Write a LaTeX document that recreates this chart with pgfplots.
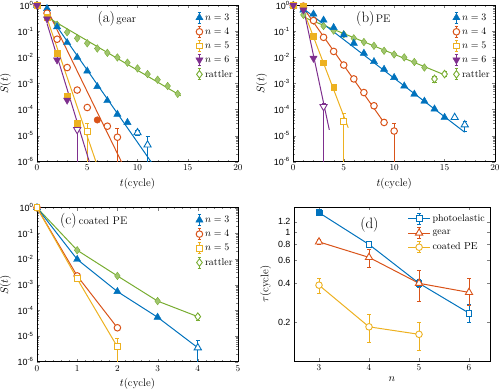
\documentclass[border=0pt]{standalone}
\usepackage{fontspec}
\usepackage{pgfplots}
\pgfplotsset{compat=1.18}
\newfontfamily\tf{Liberation Sans}
\definecolor{cb}{rgb}{0,0.447,0.741}
\definecolor{cr}{rgb}{0.85,0.325,0.098}
\definecolor{cy}{rgb}{0.929,0.694,0.125}
\definecolor{cp}{rgb}{0.494,0.184,0.556}
\definecolor{cg}{rgb}{0.466,0.674,0.188}
\pgfplotsset{
  myaxis/.style={scale only axis, anchor=south west, clip=true,
    tick label style={font=\tf\fontsize{9}{10}\selectfont},
    label style={font=\fontsize{11}{12}\selectfont},
    axis line style={line width=0.6pt},
    major tick length=3.2pt, minor tick length=1.8pt,
    legend cell align=left,
    legend style={draw=none, fill=none, font=\fontsize{10}{11}\selectfont, row sep=2.2pt, inner sep=0pt},
  },
  errleg/.style={legend image code/.code={
    \draw[##1,mark=none,solid,line width=0.7pt] (0pt,-5.5pt)--(0pt,5.5pt) (-1.8pt,-5.5pt)--(1.8pt,-5.5pt) (-1.8pt,5.5pt)--(1.8pt,5.5pt);
    \draw[##1] plot coordinates {(0pt,0pt)};}},
  errlegline/.style={legend image code/.code={
    \draw[##1,mark=none,line width=0.9pt] (-11pt,0pt)--(11pt,0pt);
    \draw[##1,mark=none,line width=0.7pt] (0pt,-5.5pt)--(0pt,5.5pt) (-1.8pt,-5.5pt)--(1.8pt,-5.5pt) (-1.8pt,5.5pt)--(1.8pt,5.5pt);
    \draw[##1] plot coordinates {(0pt,0pt)};}},
  ebl/.style={no marks, line width=0.7pt, forget plot, unbounded coords=jump},
  fitl/.style={no marks, line width=1pt, forget plot},
  mB/.style={only marks, forget plot, color=cb, mark=triangle*, mark size=4.2pt, mark options={solid, fill=cb}},
  mBo/.style={only marks, forget plot, color=cb, mark=triangle*, mark size=4.2pt, mark options={solid, fill=white, line width=0.9pt}},
  mR/.style={only marks, forget plot, color=cr, mark=*, mark size=3.3pt, mark options={solid, fill=cr}},
  mRo/.style={only marks, forget plot, color=cr, mark=*, mark size=3.3pt, mark options={solid, fill=white, line width=1pt}},
  mY/.style={only marks, forget plot, color=cy, mark=square*, mark size=2.9pt, mark options={solid, fill=cy}},
  mYo/.style={only marks, forget plot, color=cy, mark=square*, mark size=2.9pt, mark options={solid, fill=white, line width=0.9pt}},
  mP/.style={only marks, forget plot, color=cp, mark=triangle*, mark size=4.2pt, mark options={solid, fill=cp, rotate=180}},
  mPo/.style={only marks, forget plot, color=cp, mark=triangle*, mark size=4.2pt, mark options={solid, fill=white, rotate=180, line width=0.9pt}},
  mG/.style={only marks, forget plot, color=cg, mark=diamond*, mark size=3.8pt, mark options={solid, fill=cg!70!white, draw=cg}},
  mGo/.style={only marks, forget plot, color=cg, mark=diamond*, mark size=3.8pt, mark options={solid, fill=white, line width=0.9pt}},
}
\begin{document}
\begin{tikzpicture}
\useasboundingbox (0,0) rectangle (500bp,392bp);
% ---------------- (a) gear
\begin{axis}[myaxis, at={(37bp,230.3bp)}, width=201bp, height=156.4bp,
  ymode=log, ymin=1e-6, ymax=1, ytick={1e-6,1e-5,1e-4,1e-3,1e-2,1e-1,1},
  yticklabels={10\textsuperscript{-6},10\textsuperscript{-5},10\textsuperscript{-4},10\textsuperscript{-3},10\textsuperscript{-2},10\textsuperscript{-1},10\textsuperscript{0}},
  ylabel={$S(t)$}, xlabel={$t$(cycle)},
  xmin=0, xmax=20, xtick={0,5,10,15,20}, minor x tick num=4,
  legend style={at={(0.985,0.96)}, anchor=north east}]
\addplot[ebl, cb] coordinates {(10,1e-5)(10,1.6e-5)(nan,nan)(9.8,1.6e-5)(10.2,1.6e-5)(nan,nan)(9.8,1e-5)(10.2,1e-5)(nan,nan)(11,1e-6)(11,9e-6)(nan,nan)(10.8,9e-6)(11.2,9e-6)};
\addplot[ebl, cr] coordinates {(8,1e-6)(8,1.97e-5)(nan,nan)(7.8,1.97e-5)(8.2,1.97e-5)};
\addplot[ebl, cy] coordinates {(5,1e-6)(5,3e-5)(nan,nan)(4.8,3e-5)(5.2,3e-5)};
\addplot[ebl, cp] coordinates {(4,1e-6)(4,3e-5)(nan,nan)(3.8,3e-5)(4.2,3e-5)};
\addplot[mG] coordinates {(0,1)(1,0.35)(2,0.18)(3,0.092)(4,0.054)(5,0.035)(6,0.022)(7,0.015)(8,0.01)(9,6.3e-3)(10,3.8e-3)(11,2.3e-3)(12,1.4e-3)(13,8e-4)(14,4e-4)};
\addplot[mB] coordinates {(0,1)(1,0.75)(2,0.15)(3,0.037)(4,0.01)(5,3e-3)(6,7.6e-4)(7,2.2e-4)(8,6.6e-5)(9,3.2e-5)};
\addplot[mBo] coordinates {(10,1.3e-5)(11,4.4e-6)};
\addplot[mRo] coordinates {(0,1)(1,0.5)(2,0.05)(3,4.1e-3)(4,5.6e-4)(5,1.2e-4)(7,2.3e-5)(8,8.7e-6)};
\addplot[mR] coordinates {(6,4e-5)};
\addplot[mY] coordinates {(0,1)(1,0.35)(2,0.0145)(3,3.3e-4)(4,3e-5)};
\addplot[mYo] coordinates {(5,1.4e-5)};
\addplot[mP] coordinates {(0,1)(1,0.3)(2,8e-3)(3,2.3e-4)};
\addplot[mPo] coordinates {(4,1.7e-5)};
\addplot[fitl, cb] coordinates {(1,0.537)(11.6,7.2e-7)};
\addplot[fitl, cr] coordinates {(1,0.708)(8.6,6.9e-7)};
\addplot[fitl, cy] coordinates {(1,0.316)(6,7e-7)};
\addplot[fitl, cp] coordinates {(1,0.2)(5.3,7.6e-7)};
\addplot[fitl, cg] coordinates {(1,0.355)(14.3,3.4e-4)};
\addlegendimage{errleg, color=cb, mark=triangle*, mark size=4.2pt, mark options={fill=cb}}
\addlegendentry{$n=3$}
\addlegendimage{errleg, color=cr, mark=*, mark size=3.3pt, mark options={fill=white, line width=1pt}}
\addlegendentry{$n=4$}
\addlegendimage{errleg, color=cy, mark=square*, mark size=2.9pt, mark options={fill=white, line width=0.9pt}}
\addlegendentry{$n=5$}
\addlegendimage{errleg, color=cp, mark=triangle*, mark size=4.2pt, mark options={fill=cp, rotate=180}}
\addlegendentry{$n=6$}
\addlegendimage{errleg, color=cg, mark=diamond*, mark size=3.8pt, mark options={fill=white, line width=0.9pt}}
\addlegendentry{rattler}
\node[anchor=base west, inner sep=0pt] at (rel axis cs:0.30,0.887) {{\fontsize{15}{15}\selectfont (a)}\kern1.5pt{\fontsize{11}{11}\selectfont gear}};
\end{axis}
% ---------------- (b) PE
\begin{axis}[myaxis, at={(293.3bp,230.3bp)}, width=201.7bp, height=156.4bp,
  ymode=log, ymin=1e-6, ymax=1, ytick={1e-6,1e-5,1e-4,1e-3,1e-2,1e-1,1},
  yticklabels={10\textsuperscript{-6},10\textsuperscript{-5},10\textsuperscript{-4},10\textsuperscript{-3},10\textsuperscript{-2},10\textsuperscript{-1},10\textsuperscript{0}},
  ylabel={$S(t)$}, xlabel={$t$(cycle)},
  xmin=0, xmax=20, xtick={0,5,10,15,20}, minor x tick num=4,
  legend style={at={(0.985,0.96)}, anchor=north east}]
\addplot[ebl, cg] coordinates {(14,1.1e-3)(14,1.9e-3)(nan,nan)(13.8,1.9e-3)(14.2,1.9e-3)(nan,nan)(13.8,1.1e-3)(14.2,1.1e-3)(nan,nan)(15,1.8e-3)(15,2.8e-3)(nan,nan)(14.8,2.8e-3)(15.2,2.8e-3)(nan,nan)(14.8,1.8e-3)(15.2,1.8e-3)};
\addplot[ebl, cb] coordinates {(17,1.4e-5)(17,3.6e-5)(nan,nan)(16.8,3.6e-5)(17.2,3.6e-5)(nan,nan)(16.8,1.4e-5)(17.2,1.4e-5)};
\addplot[ebl, cr] coordinates {(9,2.4e-5)(9,4.2e-5)(nan,nan)(8.8,4.2e-5)(9.2,4.2e-5)(nan,nan)(10,1e-6)(10,3e-5)(nan,nan)(9.8,3e-5)(10.2,3e-5)};
\addplot[ebl, cy] coordinates {(5,1e-6)(5,7.2e-5)(nan,nan)(4.8,7.2e-5)(5.2,7.2e-5)};
\addplot[ebl, cp] coordinates {(3,1e-6)(3,1.75e-4)(nan,nan)(2.8,1.75e-4)(3.2,1.75e-4)};
\addplot[mG] coordinates {(0,1)(1,0.43)(2,0.26)(3,0.16)(4,0.107)(5,0.077)(6,0.054)(7,0.039)(8,0.028)(9,0.018)(10,0.013)(11,0.01)(12,6.7e-3)(13,4.1e-3)};
\addplot[mGo] coordinates {(14,1.5e-3)(15,2.3e-3)};
\addplot[mB] coordinates {(0,1)(1,0.66)(2,0.46)(3,0.27)(4,0.14)(5,0.073)(6,0.035)(7,0.0145)(8,6.9e-3)(9,3.5e-3)(10,1.7e-3)(11,8e-4)(12,3.9e-4)(13,2.1e-4)(14,1.05e-4)(15,5e-5)};
\addplot[mBo] coordinates {(16,5e-5)(17,2.6e-5)};
\addplot[mRo] coordinates {(0,1)(1,0.93)(2,0.26)(3,0.059)(4,0.017)(5,5.1e-3)(6,1.5e-3)(7,4.5e-4)(8,1.4e-4)(9,3.2e-5)(10,1.5e-5)};
\addplot[mY] coordinates {(0,1)(1,0.9)(2,0.066)(3,6.3e-3)(4,7e-4)};
\addplot[mYo] coordinates {(5,3.6e-5)};
\addplot[mP] coordinates {(0,1)(1,0.66)(2,9.3e-3)};
\addplot[mPo] coordinates {(3,1.3e-4)};
\addplot[fitl, cg] coordinates {(1,0.355)(15,2.14e-3)};
\addplot[fitl, cb] coordinates {(1,0.741)(17,1.35e-5)};
\addplot[fitl, cr] coordinates {(1,0.794)(9,3.16e-5)};
\addplot[fitl, cy] coordinates {(1,0.631)(5.45,2e-5)};
\addplot[fitl, cp] coordinates {(1,0.794)(3.57,1.66e-5)};
\addlegendimage{errleg, color=cb, mark=triangle*, mark size=4.2pt, mark options={fill=cb}}
\addlegendentry{$n=3$}
\addlegendimage{errleg, color=cr, mark=*, mark size=3.3pt, mark options={fill=white, line width=1pt}}
\addlegendentry{$n=4$}
\addlegendimage{errleg, color=cy, mark=square*, mark size=2.9pt, mark options={fill=white, line width=0.9pt}}
\addlegendentry{$n=5$}
\addlegendimage{errleg, color=cp, mark=triangle*, mark size=4.2pt, mark options={fill=cp, rotate=180}}
\addlegendentry{$n=6$}
\addlegendimage{errleg, color=cg, mark=diamond*, mark size=3.8pt, mark options={fill=white, line width=0.9pt}}
\addlegendentry{rattler}
\node[anchor=base west, inner sep=0pt] at (rel axis cs:0.311,0.887) {{\fontsize{15}{15}\selectfont (b)}\kern1.5pt{\fontsize{11}{11}\selectfont PE}};
\end{axis}
% ---------------- (c) coated PE
\begin{axis}[myaxis, at={(37bp,30.3bp)}, width=201bp, height=154bp,
  ymode=log, ymin=1e-6, ymax=1, ytick={1e-6,1e-5,1e-4,1e-3,1e-2,1e-1,1},
  yticklabels={10\textsuperscript{-6},10\textsuperscript{-5},10\textsuperscript{-4},10\textsuperscript{-3},10\textsuperscript{-2},10\textsuperscript{-1},10\textsuperscript{0}},
  ylabel={$S(t)$}, xlabel={$t$(cycle)},
  xmin=0, xmax=5, xtick={0,1,2,3,4,5}, minor x tick num=4,
  legend style={at={(0.985,0.96)}, anchor=north east}]
\addplot[no marks, cg, line width=1pt, forget plot] coordinates {(0,1)(1,0.022)(2,2.2e-3)(3,2.3e-4)(4,5.7e-5)};
\addplot[no marks, cb, line width=1pt, forget plot] coordinates {(0,1)(1,9.7e-3)(2,5.4e-4)(3,5.4e-5)(4,3.5e-6)};
\addplot[no marks, cr, line width=1pt, forget plot] coordinates {(0,1)(1,2.2e-3)(2,2.1e-5)};
\addplot[no marks, cy, line width=1pt, forget plot] coordinates {(0,1)(1,1.7e-3)(2,3.8e-6)};
\addplot[ebl, cg] coordinates {(4,4.2e-5)(4,7.2e-5)(nan,nan)(3.95,7.2e-5)(4.05,7.2e-5)(nan,nan)(3.95,4.2e-5)(4.05,4.2e-5)};
\addplot[ebl, cb] coordinates {(4,1e-6)(4,6.9e-6)(nan,nan)(3.95,6.9e-6)(4.05,6.9e-6)};
\addplot[ebl, cy] coordinates {(2,1e-6)(2,8.1e-6)(nan,nan)(1.95,8.1e-6)(2.05,8.1e-6)};
\addplot[mG] coordinates {(0,1)(1,0.022)(2,2.2e-3)(3,2.3e-4)};
\addplot[mGo] coordinates {(4,5.7e-5)};
\addplot[mB] coordinates {(0,1)(1,9.7e-3)(2,5.4e-4)(3,5.4e-5)};
\addplot[mBo] coordinates {(4,3.5e-6)};
\addplot[mRo] coordinates {(0,1)(1,2.2e-3)(2,2.1e-5)};
\addplot[mYo] coordinates {(0,1)(1,1.7e-3)(2,3.8e-6)};
\addlegendimage{errleg, color=cb, mark=triangle*, mark size=4.2pt, mark options={fill=cb}}
\addlegendentry{$n=3$}
\addlegendimage{errleg, color=cr, mark=*, mark size=3.3pt, mark options={fill=white, line width=1pt}}
\addlegendentry{$n=4$}
\addlegendimage{errleg, color=cy, mark=square*, mark size=2.9pt, mark options={fill=white, line width=0.9pt}}
\addlegendentry{$n=5$}
\addlegendimage{errleg, color=cg, mark=diamond*, mark size=3.8pt, mark options={fill=white, line width=0.9pt}}
\addlegendentry{rattler}
\node[anchor=base west, inner sep=0pt] at (rel axis cs:0.114,0.888) {{\fontsize{15}{15}\selectfont (c)}\kern2pt{\fontsize{11}{11}\selectfont coated PE}};
\end{axis}
% ---------------- (d)
\begin{axis}[myaxis, at={(294bp,31bp)}, width=196bp, height=154bp,
  xmin=2.5, xmax=6.42, xtick={3,4,5,6},
  ymode=log, ymin=0.1, ymax=1.56, ytick={0.2,0.4,0.6,0.8,1,1.2}, yticklabels={0.2,0.4,0.6,0.8,1,1.2},
  xlabel={$n$}, ylabel={$\tau$(cycle)},
  legend style={at={(0.985,0.965)}, anchor=north east}]
\addplot[ebl, cb] coordinates {(3,1.39)(3,1.43)(nan,nan)(2.96,1.43)(3.04,1.43)(nan,nan)(2.96,1.39)(3.04,1.39)(nan,nan)
  (4,0.775)(4,0.825)(nan,nan)(3.96,0.825)(4.04,0.825)(nan,nan)(3.96,0.775)(4.04,0.775)(nan,nan)
  (5,0.37)(5,0.43)(nan,nan)(4.96,0.43)(5.04,0.43)(nan,nan)(4.96,0.37)(5.04,0.37)(nan,nan)
  (6,0.2)(6,0.275)(nan,nan)(5.96,0.275)(6.04,0.275)(nan,nan)(5.96,0.2)(6.04,0.2)};
\addplot[ebl, cr] coordinates {(3,0.797)(3,0.877)(nan,nan)(2.96,0.877)(3.04,0.877)(nan,nan)(2.96,0.797)(3.04,0.797)(nan,nan)
  (4,0.53)(4,0.735)(nan,nan)(3.96,0.735)(4.04,0.735)(nan,nan)(3.96,0.53)(4.04,0.53)(nan,nan)
  (5,0.29)(5,0.50)(nan,nan)(4.96,0.50)(5.04,0.50)(nan,nan)(4.96,0.29)(5.04,0.29)(nan,nan)
  (6,0.27)(6,0.435)(nan,nan)(5.96,0.435)(6.04,0.435)(nan,nan)(5.96,0.27)(6.04,0.27)};
\addplot[ebl, cy] coordinates {(3,0.337)(3,0.437)(nan,nan)(2.96,0.437)(3.04,0.437)(nan,nan)(2.96,0.337)(3.04,0.337)(nan,nan)
  (4,0.139)(4,0.231)(nan,nan)(3.96,0.231)(4.04,0.231)(nan,nan)(3.96,0.139)(4.04,0.139)(nan,nan)
  (5,0.121)(5,0.201)(nan,nan)(4.96,0.201)(5.04,0.201)(nan,nan)(4.96,0.121)(5.04,0.121)};
\addplot[color=cb, line width=1pt, mark=square*, mark size=2.9pt, mark options={solid, fill=white, line width=0.9pt}, forget plot] coordinates {(3,1.41)(4,0.80)(5,0.40)(6,0.235)};
\addplot[only marks, color=cb, mark=square*, mark size=2.9pt, mark options={solid, fill=cb}, forget plot] coordinates {(3,1.41)};
\addplot[color=cr, line width=1pt, mark=triangle*, mark size=4.2pt, mark options={solid, fill=white, line width=0.9pt}, forget plot] coordinates {(3,0.837)(4,0.635)(5,0.40)(6,0.34)};
\addplot[color=cy, line width=1pt, mark=*, mark size=3.3pt, mark options={solid, fill=white, line width=0.9pt}, forget plot] coordinates {(3,0.387)(4,0.184)(5,0.161)};
\addlegendimage{errlegline, color=cb, mark=square*, mark size=2.9pt, mark options={fill=white, line width=0.9pt}}
\addlegendentry{photoelastic}
\addlegendimage{errlegline, color=cr, mark=triangle*, mark size=4.2pt, mark options={fill=white, line width=0.9pt}}
\addlegendentry{gear}
\addlegendimage{errlegline, color=cy, mark=*, mark size=3.3pt, mark options={fill=white, line width=0.9pt}}
\addlegendentry{coated PE}
\node[anchor=base west, inner sep=0pt] at (rel axis cs:0.337,0.862) {\fontsize{15}{15}\selectfont (d)};
\end{axis}
\end{tikzpicture}
\end{document}
